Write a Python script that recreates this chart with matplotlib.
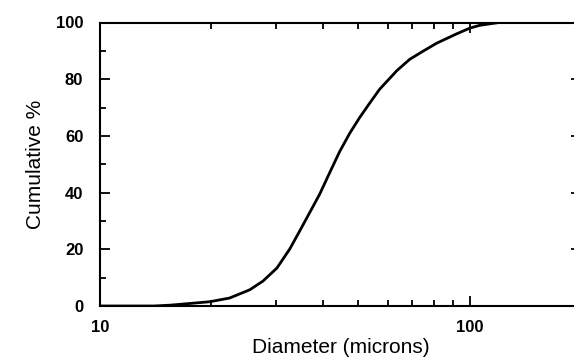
import matplotlib
matplotlib.use("Agg")
import matplotlib.pyplot as plt
from matplotlib.ticker import FixedLocator, NullFormatter, FixedFormatter

plt.rcParams['font.family'] = ['Liberation Sans', 'DejaVu Sans']

# cumulative size distribution
diameter = [10, 14, 15.5, 19.8, 22.4, 25.4, 27.6, 30.1, 32.6, 34.7, 36.9,
            39.3, 41.8, 44.5, 47.4, 50.4, 53.6, 57.1, 63.5, 68.8, 74.6,
            81.4, 92.2, 100, 106.4, 120]
cumulative = [0, 0, 0.3, 1.5, 2.8, 5.7, 8.8, 13.4, 20.1, 26.5, 32.9,
              39.5, 47, 54.5, 61, 66.5, 71.5, 76.5, 83, 87, 89.8,
              92.7, 96, 98, 99, 100]

x_major = [10, 100]
x_major_labels = ["10", "100"]
x_minor = [20, 30, 40, 50, 60, 70, 80, 90]
y_major = [0, 20, 40, 60, 80, 100]
y_minor = [10, 30, 50, 70, 90]

fig = plt.figure(figsize=(5.74, 3.6), dpi=100)
ax = fig.add_axes([100 / 574, 54 / 360, 481 / 574, 283.5 / 360])

ax.plot(diameter, cumulative, color="black", lw=2)

ax.set_xscale("log")
ax.set_xlim(10, 200)
ax.set_ylim(0, 100)

ax.xaxis.set_major_locator(FixedLocator(x_major))
ax.xaxis.set_major_formatter(FixedFormatter(x_major_labels))
ax.xaxis.set_minor_locator(FixedLocator(x_minor))
ax.xaxis.set_minor_formatter(NullFormatter())
ax.yaxis.set_major_locator(FixedLocator(y_major))
ax.yaxis.set_minor_locator(FixedLocator(y_minor))

ax.tick_params(which="both", direction="in", top=True, right=True,
               width=1.3, colors="black")
ax.tick_params(which="major", length=7)
ax.tick_params(which="minor", length=4)
ax.tick_params(axis="x", which="major", pad=10)
ax.tick_params(axis="y", which="major", pad=12)

for lab in ax.get_xticklabels() + ax.get_yticklabels():
    lab.set_fontweight("bold")
    lab.set_fontsize(12)

for s in ax.spines.values():
    s.set_linewidth(1.5)

ax.set_xlabel("Diameter (microns)", fontsize=15, labelpad=2)
ax.set_ylabel("Cumulative %", fontsize=15, labelpad=8)

plt.savefig("out.png", dpi=100)
